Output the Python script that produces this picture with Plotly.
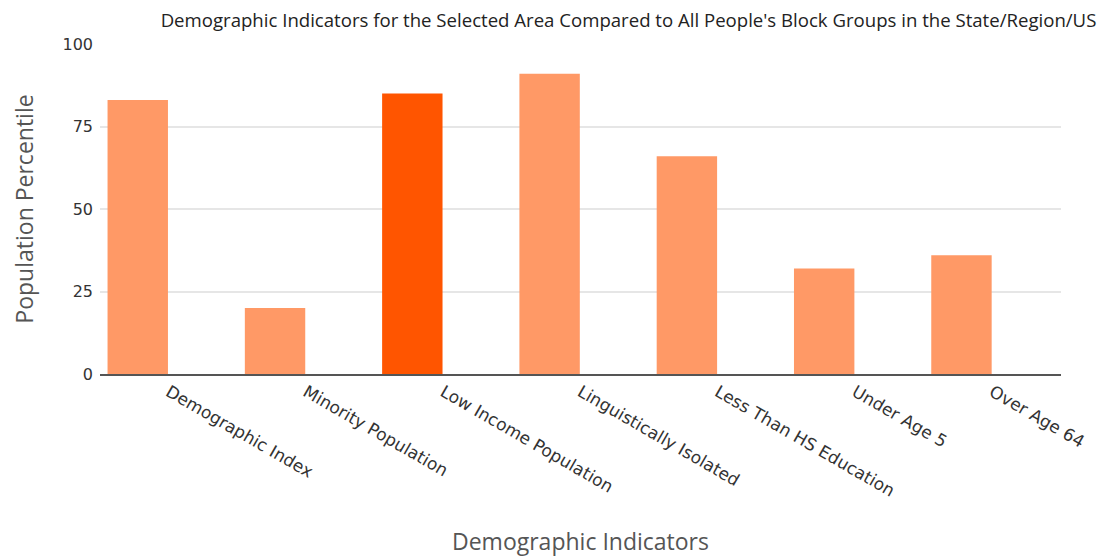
import plotly.graph_objects as go

categories = ["Demographic Index", "Minority Population", "Low Income Population",
              "Linguistically Isolated", "Less Than HS Education", "Under Age 5", "Over Age 64"]
values = [83, 20, 85, 91, 66, 32, 36]
colors = ["#FF9966", "#FF9966", "#FF5500", "#FF9966", "#FF9966", "#FF9966", "#FF9966"]

fig = go.Figure()
fig.add_trace(go.Bar(
    x=categories, y=values, marker=dict(color=colors, line=dict(width=0)),
    width=0.44, offset=-0.445, hoverinfo="x+y",
))

fig.update_layout(
    width=1116, height=556,
    margin=dict(l=92, r=63, t=36, b=190),
    paper_bgcolor="white", plot_bgcolor="white",
    showlegend=False,
    title=dict(text="Demographic Indicators for the Selected Area Compared to All People's Block Groups in the State/Region/US",
               x=0.556, xanchor="center", y=0.978, yanchor="middle",
               font=dict(family="Open Sans", size=18.6, color="#222")),
    xaxis=dict(
        automargin=False,
        tickangle=30, tickfont=dict(family="DejaVu Sans", size=17, color="#333"),
        showgrid=False, showline=True, linecolor="#555", linewidth=1.5,
        ticks="", title=dict(text="Demographic Indicators", standoff=34,
                             font=dict(family="Open Sans", size=23, color="#555")),
    ),
    yaxis=dict(
        automargin=False,
        range=[0, 100], tickvals=[0, 25, 50, 75, 100],
        tickfont=dict(family="DejaVu Sans", size=16, color="#333"),
        ticklabelstandoff=6,
        showgrid=True, gridcolor="#e6e6e6", gridwidth=2,
        zeroline=False, ticks="", ticklen=0,
        title=dict(text="Population Percentile", standoff=35,
                   font=dict(family="Open Sans", size=23, color="#555")),
    ),
)

fig.write_html("out.html")
